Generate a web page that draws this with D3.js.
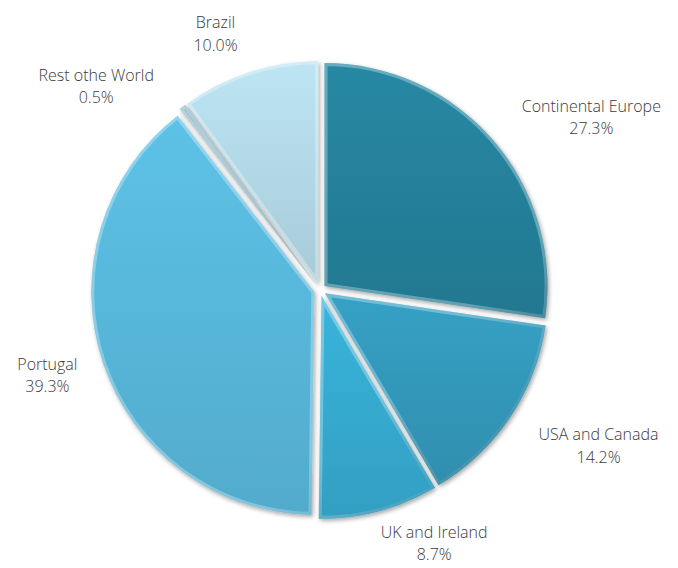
<!DOCTYPE html>
<html>
<head>
<meta charset="utf-8">
<script src="https://cdn.jsdelivr.net/npm/d3@7"></script>
<style>
  body { margin: 0; background: #fff; }
  text { font-family: "Open Sans", "Noto Sans", sans-serif; font-weight: 300; font-size: 16px; fill: #3a3a3a; }
</style>
</head>
<body>
<div id="chart"></div>
<script>
// data
const regions = ["Continental Europe", "USA and Canada", "UK and Ireland", "Portugal", "Rest othe World", "Brazil"];
const shares = [27.3, 14.2, 8.7, 39.3, 0.5, 10.0];
const colours = ["#25819b", "#3399bb", "#36abd0", "#58b8db", "#8db4c2", "#b3d9e7"];

// label placement: angle shift (deg) and distance from centre
const labelShift = [8, -5, -9.5, 1.6, -10.5, -4];
const labelDist = [323, 318, 276, 285, 304, 279];

const width = 678, height = 568;
const cx = 320, cy = 290, r = 223, explode = 6;

const svg = d3.select("#chart").append("svg")
    .attr("width", width)
    .attr("height", height);

const defs = svg.append("defs");

// drop shadow
const shadow = defs.append("filter").attr("id", "shadow")
    .attr("x", "-10%").attr("y", "-10%").attr("width", "120%").attr("height", "120%");
shadow.append("feDropShadow")
    .attr("dx", 1.5).attr("dy", 2).attr("stdDeviation", 2)
    .attr("flood-color", "#000").attr("flood-opacity", 0.35);

// bevel rim gradient, light top-left to dark bottom-right
const rim = defs.append("linearGradient").attr("id", "rim")
    .attr("gradientUnits", "userSpaceOnUse")
    .attr("x1", cx - r).attr("y1", cy - r).attr("x2", cx + r).attr("y2", cy + r);
rim.append("stop").attr("offset", "0%").attr("stop-color", "#fff").attr("stop-opacity", 0.3);
rim.append("stop").attr("offset", "45%").attr("stop-color", "#000").attr("stop-opacity", 0.08);
rim.append("stop").attr("offset", "100%").attr("stop-color", "#000").attr("stop-opacity", 0.4);

// fill gradients per slice
colours.forEach((c, i) => {
  const g = defs.append("linearGradient").attr("id", "fill" + i)
      .attr("x1", "0").attr("y1", "0").attr("x2", "0").attr("y2", "1");
  g.append("stop").attr("offset", "0%").attr("stop-color", d3.color(c).brighter(0.15));
  g.append("stop").attr("offset", "100%").attr("stop-color", d3.color(c).darker(0.2));
});

const pie = d3.pie().sort(null).value(d => d)(shares);
const arc = d3.arc().innerRadius(0).outerRadius(r);

const slices = svg.append("g")
    .attr("transform", `translate(${cx},${cy})`)
    .selectAll("g")
    .data(pie)
    .enter().append("g")
    .attr("transform", d => {
      const a = (d.startAngle + d.endAngle) / 2;
      return `translate(${Math.sin(a) * explode},${-Math.cos(a) * explode})`;
    });

slices.append("clipPath")
    .attr("id", (d, i) => "clip" + i)
    .append("path")
    .attr("d", arc);

slices.append("path")
    .attr("d", arc)
    .attr("fill", (d, i) => `url(#fill${i})`)
    .attr("filter", "url(#shadow)");

slices.append("path")
    .attr("d", arc)
    .attr("fill", "none")
    .attr("stroke", "url(#rim)")
    .attr("stroke-width", 6)
    .attr("stroke-linejoin", "round")
    .attr("clip-path", (d, i) => `url(#clip${i})`);

// labels
const labels = svg.append("g")
    .selectAll("text")
    .data(pie)
    .enter().append("text")
    .attr("text-anchor", "middle")
    .attr("transform", (d, i) => {
      const a = (d.startAngle + d.endAngle) / 2 + labelShift[i] * Math.PI / 180;
      const x = cx + Math.sin(a) * labelDist[i];
      const y = cy - Math.cos(a) * labelDist[i];
      return `translate(${x},${y})`;
    });

labels.append("tspan")
    .attr("x", 0).attr("dy", "-0.2em")
    .text((d, i) => regions[i]);

labels.append("tspan")
    .attr("x", 0).attr("dy", "1.4em")
    .text(d => d.data.toFixed(1) + "%");
</script>
</body>
</html>
